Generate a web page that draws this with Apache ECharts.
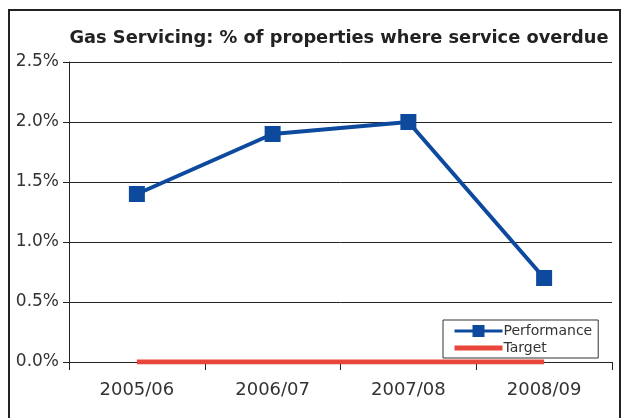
<!DOCTYPE html>
<html><head><meta charset="utf-8">
<script src="https://cdn.jsdelivr.net/npm/echarts@6/dist/echarts.min.js"></script>
<style>html,body{margin:0;padding:0;background:#fff}#c{width:621px;height:418px}</style>
</head><body><div id="c"></div>
<script>
const categories = ['2005/06', '2006/07', '2007/08', '2008/09'];
const performance = [1.4, 1.9, 2.0, 0.7];
const target = [0, 0, 0, 0];
const yTicks = { min: 0, max: 2.5, interval: 0.5 };

const chart = echarts.init(document.getElementById('c'), null, { renderer: 'canvas' });
const font = '"DejaVu Sans", sans-serif';
chart.setOption({
  animation: false,
  backgroundColor: '#fff',
  graphic: [{
    type: 'rect', z: -1,
    shape: { x: 9, y: 10, width: 611, height: 430 },
    style: { fill: 'none', stroke: '#222', lineWidth: 2 }
  }],
  title: {
    text: 'Gas Servicing: % of properties where service overdue',
    left: 334, top: 24, textAlign: 'center',
    textStyle: { fontFamily: font, fontSize: 17.8, fontWeight: 'bold', color: '#222' }
  },
  grid: { left: 69, right: 9, top: 62, bottom: 56, containLabel: false },
  legend: {
    orient: 'vertical', left: 443, top: 320,
    backgroundColor: '#fff', borderColor: '#333', borderWidth: 1,
    padding: [4, 6, 3, 9], itemGap: 3, itemWidth: 48, itemHeight: 15,
    textStyle: { fontFamily: font, fontSize: 14, color: '#333', padding: [0, 0, 0, -4] },
    data: [
      { name: 'Performance', lineStyle: { width: 3 } },
      { name: 'Target', itemStyle: { opacity: 0 }, lineStyle: { width: 5 } }
    ]
  },
  xAxis: {
    type: 'category', data: categories, boundaryGap: true,
    axisLine: { lineStyle: { color: '#222', width: 1 } },
    axisTick: { show: true, length: 8, lineStyle: { color: '#222' } },
    axisLabel: { fontFamily: font, fontSize: 18, color: '#333', margin: 19 }
  },
  yAxis: {
    type: 'value', min: yTicks.min, max: yTicks.max, interval: yTicks.interval,
    axisLine: { show: true, lineStyle: { color: '#222', width: 1 } },
    axisTick: { show: true, length: 6, lineStyle: { color: '#222' } },
    splitLine: { show: true, lineStyle: { color: '#222', width: 1 } },
    axisLabel: { fontFamily: font, fontSize: 17, color: '#333', margin: 10,
      formatter: v => v.toFixed(1) + '%' }
  },
  series: [
    { name: 'Performance', type: 'line', data: performance,
      symbol: 'rect', symbolSize: 16,
      lineStyle: { color: '#0D4A9E', width: 4 },
      itemStyle: { color: '#0D4A9E' }, z: 3 },
    { name: 'Target', type: 'line', data: target,
      symbol: 'none', showSymbol: false,
      lineStyle: { color: '#E8463A', width: 5 },
      itemStyle: { color: '#E8463A' }, z: 2 }
  ]
});
</script></body></html>
